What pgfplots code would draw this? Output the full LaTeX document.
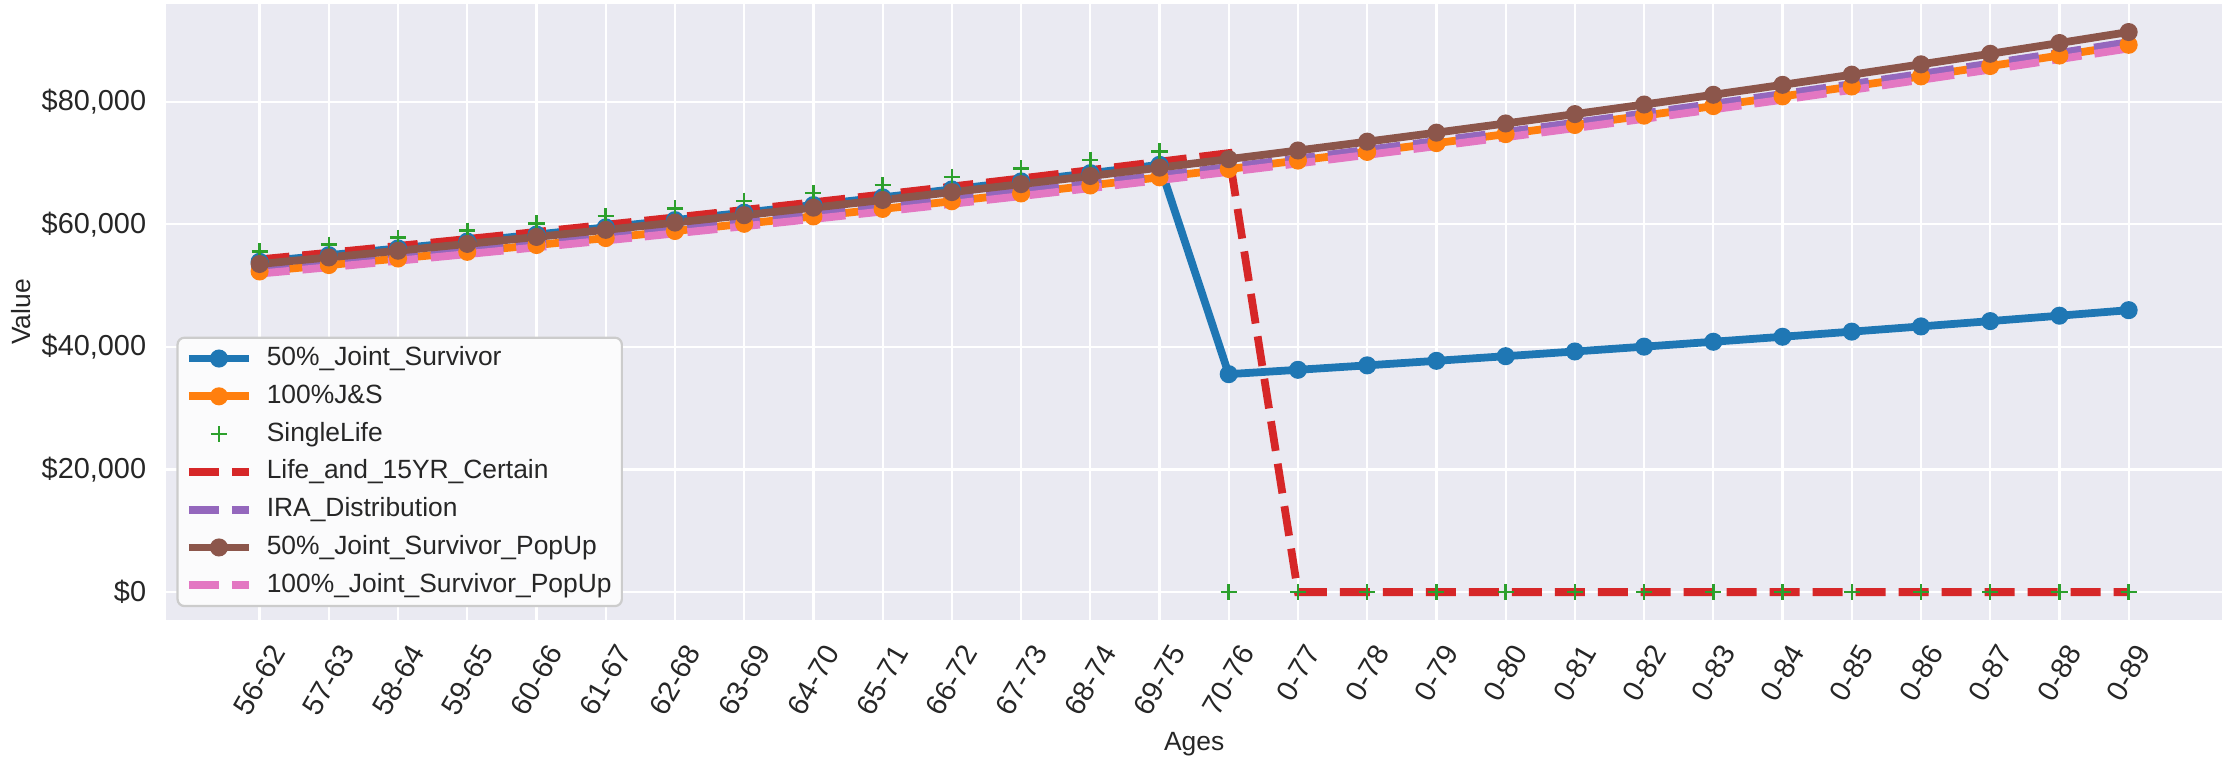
\documentclass[border=0pt]{standalone}
\usepackage{pgfplots}
\pgfplotsset{compat=1.18}
\usepackage{pgfplotstable}
\usepackage{graphicx}
\usepackage{fontspec}
\setmainfont{Liberation Sans}

\definecolor{bg}{HTML}{EAEAF2}
\definecolor{txt}{HTML}{262626}
\definecolor{c0}{HTML}{1F77B4}
\definecolor{c1}{HTML}{FF7F0E}
\definecolor{c2}{HTML}{2CA02C}
\definecolor{c3}{HTML}{D62728}
\definecolor{c4}{HTML}{9467BD}
\definecolor{c5}{HTML}{8C564B}
\definecolor{c6}{HTML}{E377C2}

% annual payout by age pair, 2% yearly increase
\pgfplotstableread{
i  js50   js100  single red    ira    pop50  pop100
0  53880  52300  55570  54270  52550  53520  51950
1  54958  53346  56681  55355  53601  54590  52989
2  56056  54413  57815  56463  54673  55682  54049
3  57178  55501  58971  57592  55766  56796  55130
4  58321  56611  60151  58744  56882  57932  56232
5  59488  57743  61354  59919  58020  59090  57357
6  60677  58898  62581  61117  59180  60272  58504
7  61891  60076  63832  62339  60364  61478  59674
8  63129  61278  65109  63586  61571  62707  60868
9  64391  62503  66411  64858  62802  63961  62085
10 65679  63753  67739  66155  64058  65241  63327
11 66993  65028  69094  67478  65339  66545  64593
12 68333  66329  70476  68828  66646  67876  65885
13 69700  67656  71886  70204  67979  69234  67203
14 35550  69009  0      71608  69339  70619  68547
15 36261  70389  0      0      70725  72031  69918
16 36986  71797  0      0      72140  73472  71316
17 37726  73233  0      0      73583  74941  72742
18 38480  74697  0      0      75054  76440  74197
19 39250  76191  0      0      76555  77968  75681
20 40035  77715  0      0      78087  79528  77195
21 40836  79269  0      0      79648  81118  78739
22 41652  80855  0      0      81241  82741  80314
23 42485  82472  0      0      82866  84396  81920
24 43335  84121  0      0      84523  86084  83558
25 44202  85804  0      0      86214  87805  85229
26 45086  87520  0      0      87938  89561  86934
27 45988  89270  0      0      89697  91353  88673
}\payouts

\newcommand\rl[1]{\rotatebox{60}{#1}}

\begin{document}
\begin{tikzpicture}
\begin{axis}[
  at={(0,0)}, anchor=south west,
  scale only axis, width=740pt, height=221.8pt,
  xmin=-1.35, xmax=28.35, ymin=-4568, ymax=95940,
  axis background/.style={fill=bg},
  axis line style={draw=none},
  major tick length=0pt,
  grid=major, major grid style={white, line width=0.8pt},
  xtick={0,...,27},
  xticklabels={\rl{56-62},\rl{57-63},\rl{58-64},\rl{59-65},\rl{60-66},\rl{61-67},\rl{62-68},\rl{63-69},\rl{64-70},\rl{65-71},\rl{66-72},\rl{67-73},\rl{68-74},\rl{69-75},\rl{70-76},\rl{0-77},\rl{0-78},\rl{0-79},\rl{0-80},\rl{0-81},\rl{0-82},\rl{0-83},\rl{0-84},\rl{0-85},\rl{0-86},\rl{0-87},\rl{0-88},\rl{0-89}},
  xticklabel style={anchor=north, inner sep=0pt, yshift=-8pt, font=\fontsize{10.4}{12}\selectfont, text=txt},
  ytick={0,20000,40000,60000,80000},
  yticklabels={\$0,{\$20,000},{\$40,000},{\$60,000},{\$80,000}},
  yticklabel style={anchor=east, inner sep=0pt, xshift=-7pt, font=\fontsize{10.4}{12}\selectfont, text=txt},
  scaled y ticks=false,
  xlabel={Ages}, ylabel={Value},
  every axis x label/.style={at={(axis description cs:0.5,0)}, anchor=center, yshift=-44.6pt, font=\fontsize{9.5}{11}\selectfont, text=txt},
  every axis y label/.style={at={(axis description cs:-0.0705,0.5)}, rotate=90, anchor=center, font=\fontsize{9.5}{11}\selectfont, text=txt},
  legend cell align=left,
  legend style={at={(axis description cs:0.005,0.021)}, anchor=south west,
    fill=white!80!bg, draw=black!20, line width=0.8pt, rounded corners=2.5pt,
    font=\fontsize{9.5}{11}\selectfont, text=txt,
    inner xsep=2.7pt, inner ysep=2pt, row sep=2.6pt, column sep=4pt,
    nodes={inner sep=1pt, text height=7pt, text depth=2pt}},
  legend image code/.code={\draw[mark repeat=2,mark phase=2,#1] plot coordinates {(0cm,0cm) (0.38cm,0cm) (0.76cm,0cm)};},
]
\addplot[c0, line width=2.8pt, mark=*, mark size=3pt, mark options={solid, line width=0.5pt}] table[x=i, y=js50] {\payouts};
\addlegendentry{50\%\_Joint\_Survivor}
\addplot[c1, line width=2.8pt, mark=*, mark size=3pt, mark options={solid, line width=0.5pt}] table[x=i, y=js100] {\payouts};
\addlegendentry{100\%J\&S}
\addplot[c2, only marks, mark=+, mark size=2.9pt, mark options={line width=0.9pt}] table[x=i, y=single] {\payouts};
\addlegendentry{SingleLife}
\addplot[c3, line width=2.8pt, dash pattern=on 10.8pt off 4.67pt] table[x=i, y=red] {\payouts};
\addlegendentry{Life\_and\_15YR\_Certain}
\addplot[c4, line width=2.8pt, dash pattern=on 10.8pt off 4.67pt] table[x=i, y=ira] {\payouts};
\addlegendentry{IRA\_Distribution}
\addplot[c5, line width=2.8pt, mark=*, mark size=3pt, mark options={solid, line width=0.5pt}] table[x=i, y=pop50] {\payouts};
\addlegendentry{50\%\_Joint\_Survivor\_PopUp}
\addplot[c6, line width=2.8pt, dash pattern=on 10.8pt off 4.67pt] table[x=i, y=pop100] {\payouts};
\addlegendentry{100\%\_Joint\_Survivor\_PopUp}
\end{axis}
\pgfresetboundingbox
\path (-59.8pt,-50.8pt) rectangle (741.4pt,223.2pt);
\end{tikzpicture}
\end{document}
